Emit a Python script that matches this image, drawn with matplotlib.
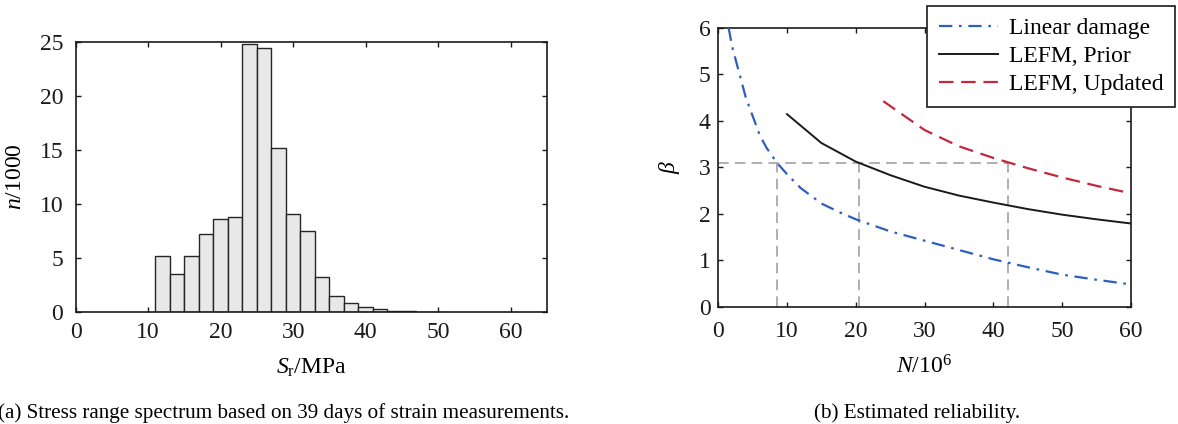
import matplotlib
matplotlib.use("Agg")
import matplotlib.pyplot as plt

plt.rcParams['font.family'] = ['Liberation Serif', 'DejaVu Serif']
plt.rcParams['mathtext.fontset'] = 'custom'
plt.rcParams['mathtext.rm'] = 'Liberation Serif'
plt.rcParams['mathtext.it'] = 'Liberation Serif:italic'
plt.rcParams['mathtext.bf'] = 'Liberation Serif:bold'

# ---------------- data ----------------
# (a) stress range histogram: left bin edges (MPa), counts (n/1000)
bin_left = [11, 13, 15, 17, 19, 21, 23, 25, 27, 29, 31, 33, 35, 37, 39, 41, 43, 45, 47, 49]
bin_width = 2
counts = [5.22, 3.52, 5.19, 7.25, 8.61, 8.80, 24.85, 24.44, 15.2, 9.04,
          7.47, 3.24, 1.52, 0.80, 0.42, 0.25, 0.13, 0.07, 0.04, 0.02]

# (b) reliability index curves
lin_N = [1.5, 2, 3, 4, 5, 6, 7, 8.5, 10, 12, 15, 17.5, 20, 25, 30, 35, 40, 45, 50, 55, 60]
lin_beta = [6.0, 5.6, 5.05, 4.5, 4.1, 3.7, 3.42, 3.1, 2.85, 2.55, 2.22, 2.04, 1.88,
            1.62, 1.42, 1.22, 1.02, 0.85, 0.69, 0.58, 0.48]
prior_N = [10, 15, 20, 25, 30, 35, 40, 45, 50, 55, 60]
prior_beta = [4.14, 3.52, 3.12, 2.83, 2.58, 2.39, 2.24, 2.10, 1.98, 1.88, 1.79]
upd_N = [24, 30, 35, 40, 45, 50, 55, 60]
upd_beta = [4.42, 3.80, 3.45, 3.20, 2.98, 2.78, 2.60, 2.44]
target_beta = 3.1
cross_N = [8.5, 20.5, 42.1]

labels = ['Linear damage', 'LEFM, Prior', 'LEFM, Updated']
captions = ['(a) Stress range spectrum based on 39 days of strain measurements.',
            '(b) Estimated reliability.']

# ---------------- figure ----------------
W, H = 1178, 424
fig = plt.figure(figsize=(W / 100, H / 100), dpi=100)

FS = 17
ax1 = fig.add_axes([75.7 / W, (H - 312) / H, (547 - 75.7) / W, 270 / H])
ax2 = fig.add_axes([718.3 / W, (H - 306.7) / H, (1130.7 - 718.3) / W, 279 / H])

for ax in (ax1, ax2):
    for s in ax.spines.values():
        s.set_linewidth(1.2)
        s.set_color('#1a1a1a')
    ax.tick_params(direction='in', top=True, right=True, length=3.5, width=1.0,
                   labelsize=FS, colors='#1a1a1a')

# (a) histogram
ax1.bar(bin_left, counts, width=bin_width, align='edge', color='#e8e8e8',
        edgecolor='#262626', linewidth=1.0, zorder=2)
ax1.set_xlim(0, 65)
ax1.set_ylim(0, 25)
ax1.set_xticks(range(0, 61, 10))
ax1.set_yticks(range(0, 26, 5))
ax1.tick_params(axis='x', pad=7.5)
ax1.tick_params(axis='y', pad=9)
ax1.set_xlabel(r'$S_{\mathrm{r}}$/MPa', fontsize=FS)
ax1.set_ylabel(r'$n$/1000', fontsize=FS)
ax1.xaxis.set_label_coords(0.5, -0.165)
ax1.yaxis.set_label_coords(-0.105, 0.5)

# (b) reliability
ax2.plot([0, max(cross_N)], [target_beta, target_beta], color='#9a9a9a',
         lw=1.1, linestyle=(0, (7, 4)), zorder=1)
for n in cross_N:
    ax2.plot([n, n], [0, target_beta], color='#9a9a9a', lw=1.1,
             linestyle=(0, (7, 4)), zorder=1)
l1, = ax2.plot(lin_N, lin_beta, color='#2f5fbd', lw=1.6,
               linestyle=(0, (6, 3, 1.2, 3)), label=labels[0], zorder=3)
l2, = ax2.plot(prior_N, prior_beta, color='#1a1a1a', lw=1.4,
               linestyle='-', label=labels[1], zorder=3)
l3, = ax2.plot(upd_N, upd_beta, color='#c3283c', lw=1.6,
               linestyle=(0, (6.5, 3.5)), label=labels[2], zorder=3)
ax2.set_xlim(0, 60)
ax2.set_ylim(0, 6)
ax2.set_xticks(range(0, 61, 10))
ax2.set_yticks(range(0, 7))
ax2.tick_params(axis='x', pad=10.5)
ax2.tick_params(axis='y', pad=5.5)
ax2.set_xlabel(r'$N$/10$^{6}$', fontsize=FS)
ax2.set_ylabel(r'$\beta$', fontsize=FS)
ax2.xaxis.set_label_coords(0.5, -0.175)
ax2.yaxis.set_label_coords(-0.088, 0.5)

leg = fig.legend(handles=[l1, l2, l3], loc='upper right',
                 bbox_to_anchor=(1175 / W, (H - 5.7) / H),
                 fontsize=FS, frameon=True, fancybox=False, framealpha=1,
                 edgecolor='#1a1a1a', borderpad=0.5, labelspacing=0.28,
                 handlelength=2.5, handletextpad=0.45, borderaxespad=0)
leg.get_frame().set_linewidth(1.2)

fig.text(-2 / W, 6 / H, captions[0], fontsize=15.2, ha='left', va='baseline')
fig.text(917 / W, 6 / H, captions[1], fontsize=15.2, ha='center', va='baseline')

fig.savefig('out.png', dpi=100)
